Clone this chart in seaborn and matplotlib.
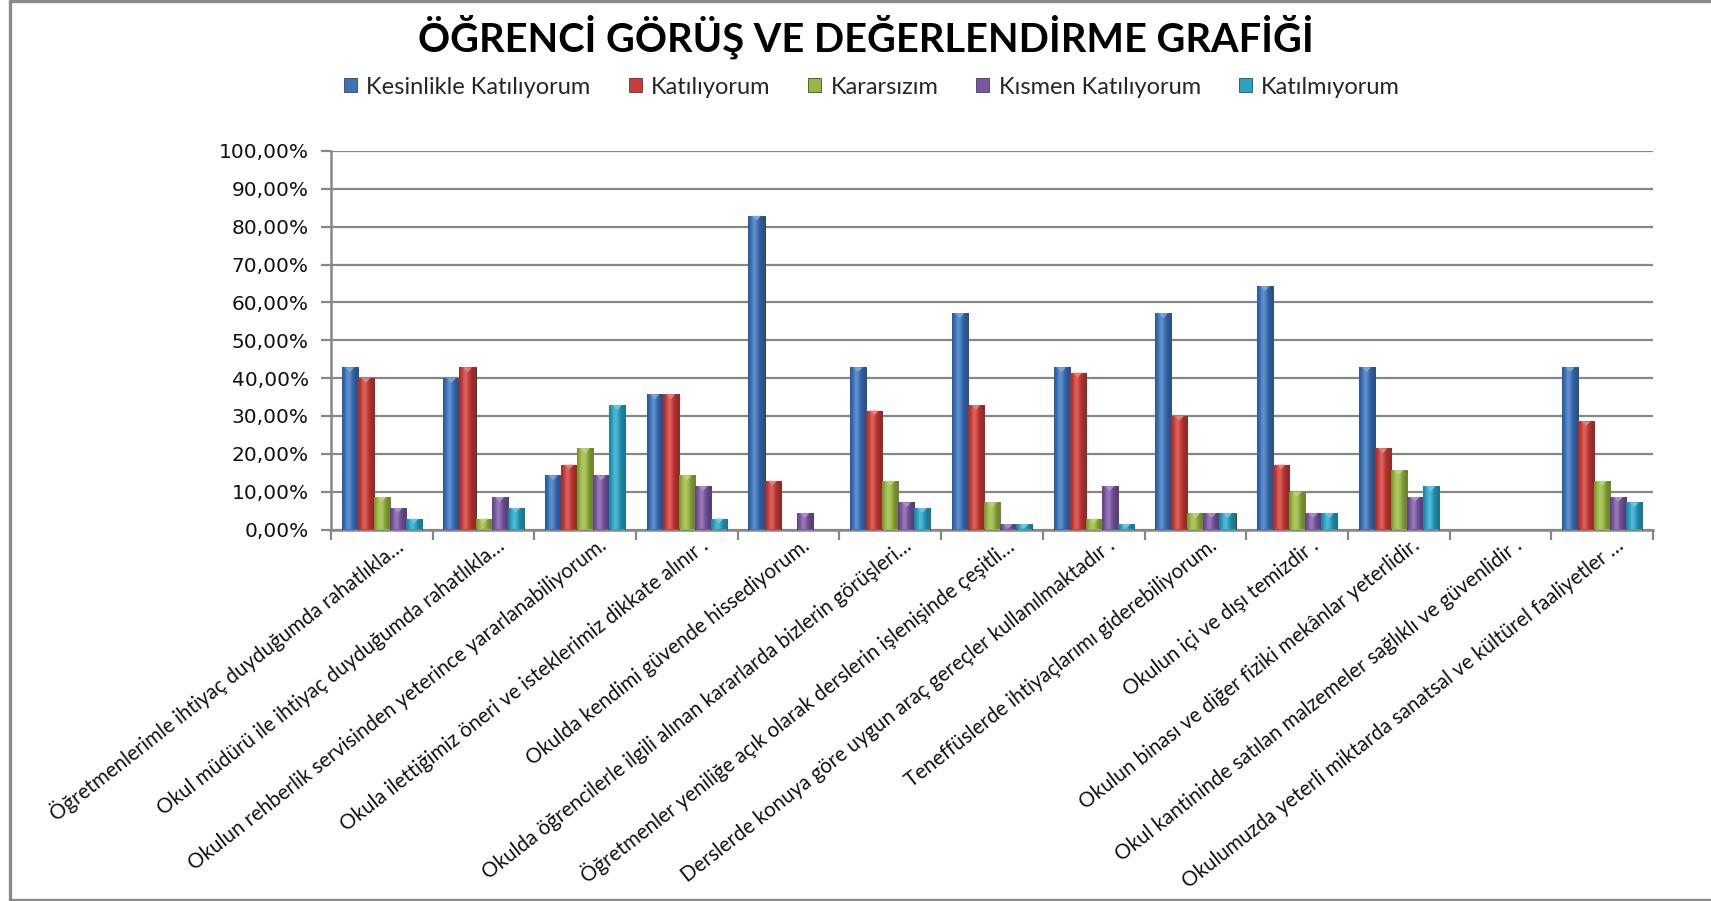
import numpy as np
import pandas as pd
import matplotlib
matplotlib.use("Agg")
import matplotlib.pyplot as plt
import matplotlib.transforms as mtransforms
from matplotlib.patches import Patch, Rectangle
from matplotlib.lines import Line2D
import seaborn as sns

# ---------------- data ----------------
questions = [
    "Öğretmenlerimle ihtiyaç duyduğumda rahatlıkla…",
    "Okul müdürü ile ihtiyaç duyduğumda rahatlıkla…",
    "Okulun rehberlik servisinden yeterince yararlanabiliyorum.",
    "Okula ilettiğimiz öneri ve isteklerimiz dikkate alınır .",
    "Okulda kendimi güvende hissediyorum.",
    "Okulda öğrencilerle ilgili alınan kararlarda bizlerin görüşleri…",
    "Öğretmenler yeniliğe açık olarak derslerin işlenişinde çeşitli…",
    "Derslerde konuya göre uygun araç gereçler kullanılmaktadır .",
    "Teneffüslerde ihtiyaçlarımı giderebiliyorum.",
    "Okulun içi ve dışı temizdir .",
    "Okulun binası ve diğer fiziki mekânlar yeterlidir.",
    "Okul kantininde satılan malzemeler sağlıklı ve güvenlidir .",
    "Okulumuzda yeterli miktarda sanatsal ve kültürel faaliyetler …",
]
series_names = ["Kesinlikle Katılıyorum", "Katılıyorum", "Kararsızım",
                "Kısmen Katılıyorum", "Katılmıyorum"]
kesinlikle = [42.86, 40.00, 14.29, 35.71, 82.86, 42.86, 57.14, 42.86, 57.14, 64.29, 42.86, 0.0, 42.86]
katiliyorum = [40.00, 42.86, 17.14, 35.71, 12.86, 31.43, 32.86, 41.43, 30.00, 17.14, 21.43, 0.0, 28.57]
kararsizim = [8.57, 2.86, 21.43, 14.29, 0.00, 12.86, 7.14, 2.86, 4.29, 10.00, 15.71, 0.0, 12.86]
kismen = [5.71, 8.57, 14.29, 11.43, 4.29, 7.14, 1.43, 11.43, 4.29, 4.29, 8.57, 0.0, 8.57]
katilmiyorum = [2.86, 5.71, 32.86, 2.86, 0.00, 5.71, 1.43, 1.43, 4.29, 4.29, 11.43, 0.0, 7.14]
yticks = [0, 10, 20, 30, 40, 50, 60, 70, 80, 90, 100]
title = "ÖĞRENCİ GÖRÜŞ VE DEĞERLENDİRME GRAFİĞİ"

colors = ["#3A72BC", "#CC3B37", "#98B841", "#7B57A3", "#27A3C4"]

values = [kesinlikle, katiliyorum, kararsizim, kismen, katilmiyorum]
rows = []
for s, vals in zip(series_names, values):
    for q, v in zip(questions, vals):
        rows.append({"soru": q, "yanit": s, "deger": v})
df = pd.DataFrame(rows)

# ---------------- figure ----------------
sns.set_theme(style="white")
plt.rcParams["font.family"] = ["Lato", "DejaVu Sans"]

W, H = 1711, 901
fig = plt.figure(figsize=(W / 100, H / 100), dpi=100)
fig.patch.set_facecolor("white")
ax = fig.add_axes([331 / W, 1 - 529.5 / H, (1653 - 331) / W, (529.5 - 151) / H])

sns.barplot(data=df, x="soru", y="deger", hue="yanit", order=questions,
            hue_order=series_names, palette=colors, saturation=1,
            width=0.79, dodge=True, edgecolor="#2b2b2b", linewidth=0.6,
            legend=False, ax=ax, zorder=3)

ax.set_ylim(0, 100)
ax.set_xlim(-0.5, len(questions) - 0.5)

# gradient (3D-like) shading on bars
profile = np.linspace(0, 1, 40)
shade = 0.72 + 0.45 * np.exp(-((profile - 0.38) / 0.28) ** 2)
n = len(questions)
bars = [p for p in ax.patches if isinstance(p, Rectangle)]
for p in bars:
    h = p.get_height()
    if h <= 0:
        p.set_visible(False)
        continue
    col = np.array(p.get_facecolor()[:3])
    dark = np.clip(col[None, :] * shade[:, None], 0, 1)
    bright = np.clip(col + (1 - col) * (shade[:, None] - 1) * 1.2, 0, 1)
    img = np.where(shade[:, None] > 1, bright, dark)[None, :, :]
    light = np.clip(col + (1 - col) * 0.35, 0, 1)
    x0 = p.get_x()
    w = p.get_width()
    im = ax.imshow(img, extent=(x0, x0 + w, 0, h), aspect="auto",
                   interpolation="bilinear", zorder=3.5, origin="lower")
    im.set_clip_path(p)
    ax.fill([x0 + w * 0.22, x0 + w * 0.78, x0 + w * 0.5], [h, h, h - 1.3],
            color=light, zorder=3.6, lw=0)

ax.set_xlim(-0.5, len(questions) - 0.5)
ax.set_ylim(0, 100)

# grid and spines
gridc = "#878787"
ax.set_yticks(yticks)
ax.set_yticklabels([f"{v:.2f}".replace(".", ",") + "%" for v in yticks],
                   fontfamily="DejaVu Sans", fontsize=14.5, color="#111111")
ax.yaxis.grid(True, color=gridc, lw=1.6, zorder=0)
ax.xaxis.grid(False)
for side in ["top", "right"]:
    ax.spines[side].set_visible(False)
ax.spines["left"].set_color(gridc)
ax.spines["left"].set_linewidth(1.8)
ax.spines["bottom"].set_color(gridc)
ax.spines["bottom"].set_linewidth(1.8)
ax.tick_params(axis="y", which="major", length=7, width=1.6, color=gridc,
               direction="out", pad=9, left=True)
ax.set_axisbelow(True)

ax.set_xticks(np.arange(n))
ax.set_xticks(np.arange(n + 1) - 0.5, minor=True)
ax.tick_params(axis="x", which="major", length=0, pad=10, bottom=True)
ax.tick_params(axis="x", which="minor", length=7, width=1.6, color=gridc,
               direction="out", bottom=True)
ax.set_xticklabels(questions, rotation=38, ha="right", va="center",
                   rotation_mode="anchor", fontsize=14.8, color="#111111")
off = mtransforms.ScaledTranslation(0.19, 0, fig.dpi_scale_trans)
for lab in ax.get_xticklabels():
    lab.set_transform(lab.get_transform() + off)
ax.set_xlabel("")
ax.set_ylabel("")

# title
fig.text(866 / W, 1 - 37 / H, title, ha="center", va="center",
         fontsize=28.6, fontweight="bold", color="black")

# legend
handles = [Patch(facecolor=c, edgecolor="#2b2b2b", lw=0.5) for c in colors]
fig.legend(handles, series_names, loc="center", ncol=5,
           bbox_to_anchor=(872 / W, 1 - 87 / H), frameon=False,
           fontsize=17, handlelength=0.55, handleheight=0.55,
           handletextpad=0.4, columnspacing=1.6)

# chart frame
fc = "#8a8a8a"
fig.add_artist(Line2D([10 / W, 10 / W], [1 / H, 1 - 1 / H], color=fc, lw=2.4,
                      transform=fig.transFigure))
fig.add_artist(Line2D([10 / W, 1], [1 - 1.2 / H, 1 - 1.2 / H], color=fc, lw=2.4,
                      transform=fig.transFigure))
fig.add_artist(Line2D([10 / W, 1], [1.5 / H, 1.5 / H], color=fc, lw=2.4,
                      transform=fig.transFigure))

fig.savefig("out.png", dpi=100, facecolor="white")
